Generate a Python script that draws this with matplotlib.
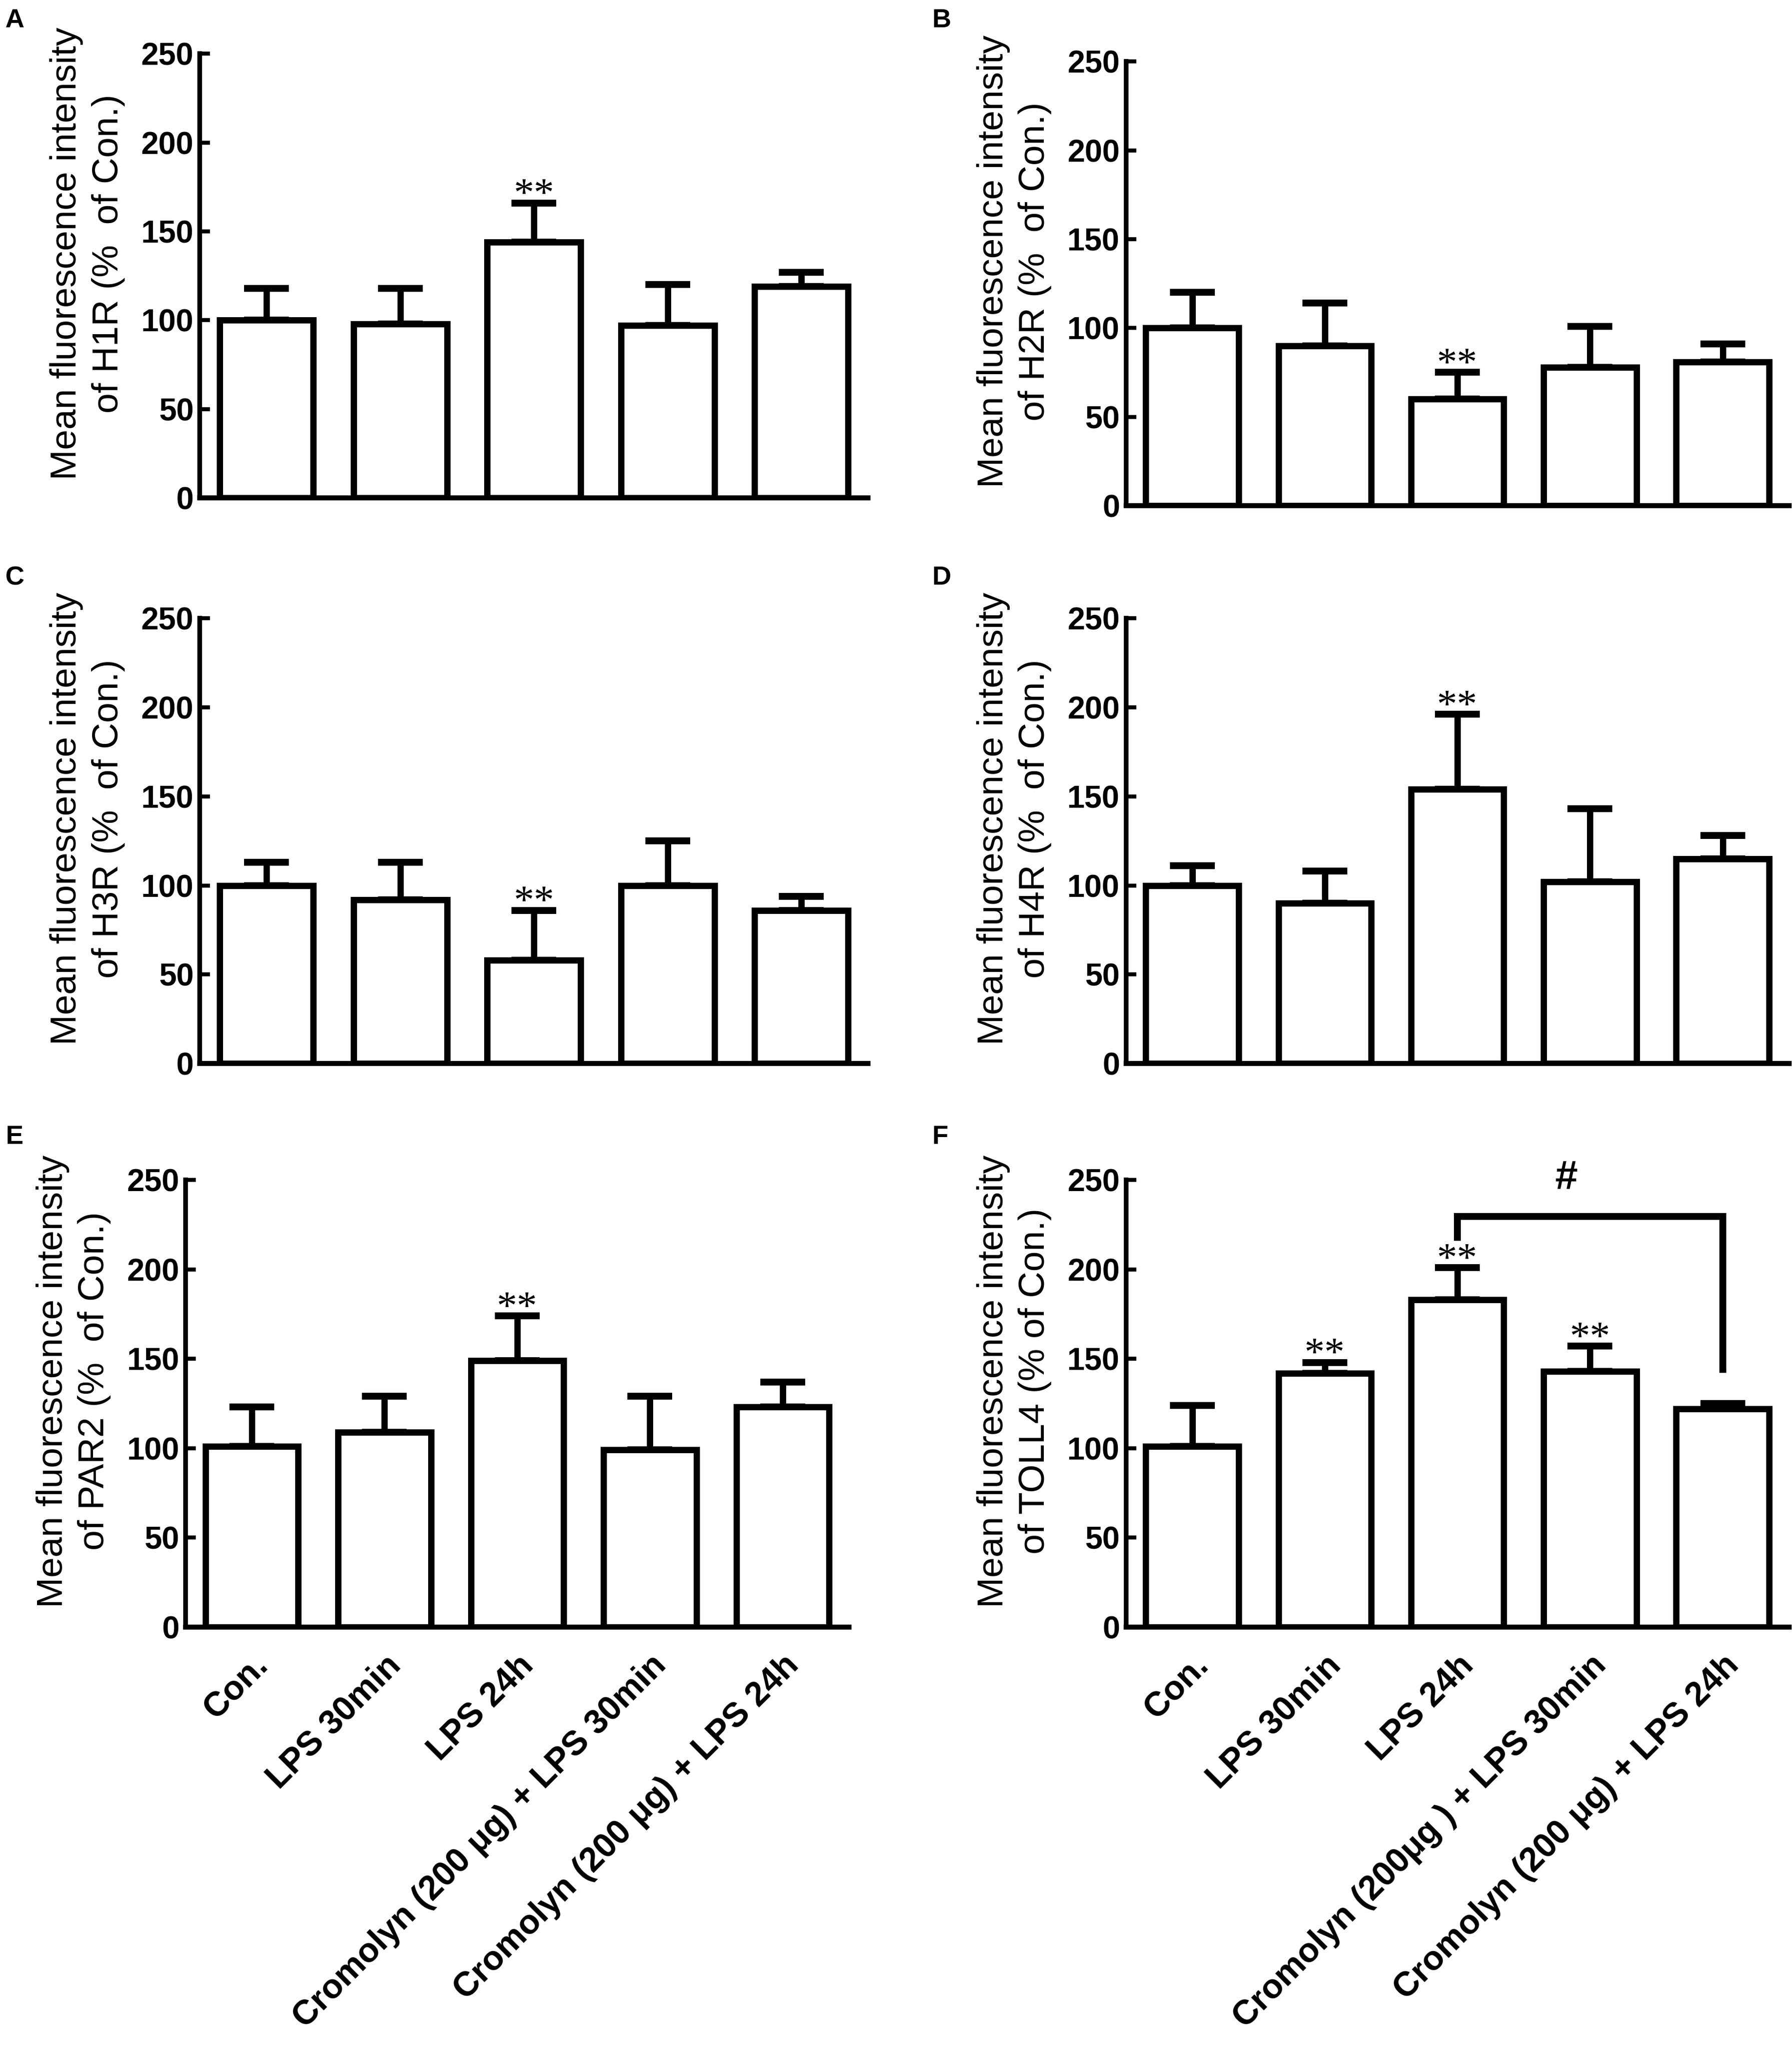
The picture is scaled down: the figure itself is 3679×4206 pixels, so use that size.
import matplotlib.pyplot as plt
import numpy as np

groups_e = ["Con.", "LPS 30min", "LPS 24h",
            "Cromolyn (200 \u03bcg) + LPS 30min", "Cromolyn (200 \u03bcg) + LPS 24h"]
groups_f = ["Con.", "LPS 30min", "LPS 24h",
            "Cromolyn (200\u03bcg ) + LPS 30min", "Cromolyn (200 \u03bcg) + LPS 24h"]

h1r_mean = [100, 98, 144, 97, 119]
h1r_err = [18, 20, 22, 23, 8]
h2r_mean = [100, 90, 60, 78, 81]
h2r_err = [20, 24, 15, 23, 10]
h3r_mean = [100, 92, 58, 100, 86]
h3r_err = [13, 21, 28, 25, 8]
h4r_mean = [100, 90, 154, 102, 115]
h4r_err = [11, 18, 42, 41, 13]
par2_mean = [101, 109, 149, 99, 123]
par2_err = [22, 20, 25, 30, 14]
toll4_mean = [101, 142, 183, 143, 122]
toll4_err = [23, 6, 18, 14, 3]

h1r_stars = [2]
h2r_stars = [2]
h3r_stars = [2]
h4r_stars = [2]
par2_stars = [2]
toll4_stars = [1, 2, 3]

panels = [
    ("A", "H1R (%  of Con.)", h1r_mean, h1r_err, h1r_stars, None),
    ("B", "H2R (%  of Con.)", h2r_mean, h2r_err, h2r_stars, None),
    ("C", "H3R (%  of Con.)", h3r_mean, h3r_err, h3r_stars, None),
    ("D", "H4R (%  of Con.)", h4r_mean, h4r_err, h4r_stars, None),
    ("E", "PAR2 (%  of Con.)", par2_mean, par2_err, par2_stars, groups_e),
    ("F", "TOLL4 (% of Con.)", toll4_mean, toll4_err, toll4_stars, groups_f),
]

# axes boxes (left, bottom, width, height) in figure fraction
boxes = [
    (0.1115, 0.757, 0.373, 0.2168),
    (0.6283, 0.7532, 0.370, 0.2168),
    (0.1115, 0.4809, 0.373, 0.2174),
    (0.6283, 0.4809, 0.370, 0.2174),
    (0.1035, 0.2060, 0.3703, 0.2181),
    (0.6283, 0.2060, 0.370, 0.2181),
]
letter_pos = [(0.003, 0.990), (0.520, 0.990), (0.003, 0.718),
              (0.520, 0.718), (0.003, 0.445), (0.520, 0.445)]

plt.rcParams['font.family'] = ['Liberation Sans', 'DejaVu Sans']
lw = 3.1

fig = plt.figure(figsize=(3679 / 300, 4206 / 300), dpi=300)

x = np.arange(5)
for (letter, what, mean, err, stars, xlabels), box, lp in zip(panels, boxes, letter_pos):
    ax = fig.add_axes(box)
    ax.errorbar(x, mean, yerr=[np.zeros(5), err], fmt='none', ecolor='black',
                elinewidth=lw, capsize=11, capthick=3.4, zorder=1)
    ax.bar(x, mean, width=0.7, color='white', edgecolor='black', linewidth=lw, zorder=2)
    for i in stars:
        ax.text(x[i], mean[i] + err[i] - 1.5, '**', ha='center', va='baseline',
                fontsize=20, family='Liberation Serif')
    ax.set_xlim(-0.5, 4.5)
    ax.set_ylim(0, 250)
    ax.set_yticks([0, 50, 100, 150, 200, 250])
    ax.spines['top'].set_visible(False)
    ax.spines['right'].set_visible(False)
    ax.spines['left'].set_linewidth(2.3)
    ax.spines['bottom'].set_linewidth(2.5)
    ax.tick_params(axis='y', direction='in', width=2, length=5, labelsize=15.5, pad=3)
    for t in ax.get_yticklabels():
        t.set_fontweight('bold')
    ax.tick_params(axis='x', length=0)
    if xlabels is None:
        ax.set_xticks([])
    else:
        ax.set_xticks(x, xlabels, rotation=45, ha='right', rotation_mode='anchor',
                      fontsize=16.8, fontweight='bold')
        ax.tick_params(axis='x', pad=11)
    ax.set_ylabel("Mean fluorescence intensity\nof " + what, fontsize=18,
                  linespacing=1.3)
    ax.yaxis.set_label_coords(-0.112, 0.55)
    fig.text(lp[0], lp[1], letter, fontsize=13, fontweight='bold', va='center')

    if letter == "F":
        ax.plot([2, 2, 4, 4], [218, 229.6, 229.6, 144], color='black', linewidth=3.4,
                clip_on=False, solid_joinstyle='miter')
        ax.text(2.82, 240, '#', ha='center', va='bottom', fontsize=20,
                fontweight='bold', clip_on=False)

fig.savefig('out.png', dpi=300)
